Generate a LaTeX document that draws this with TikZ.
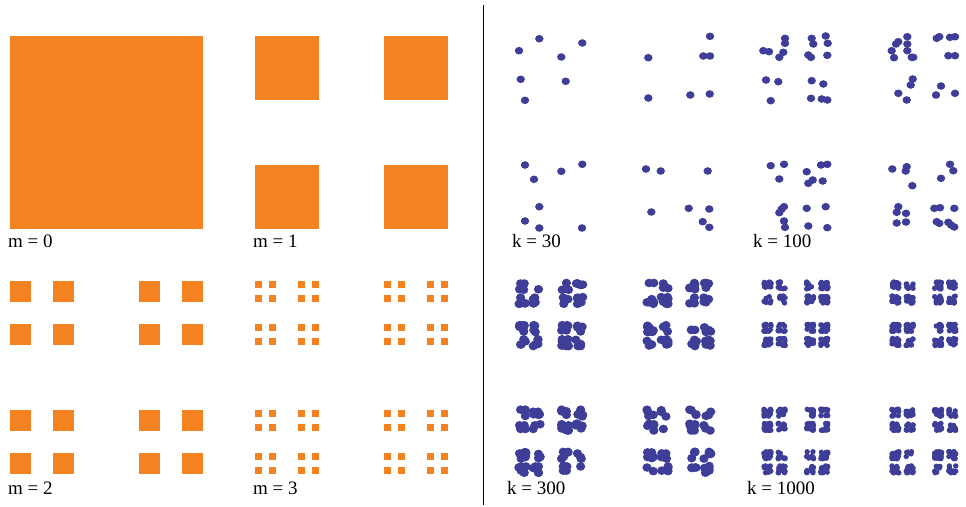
\documentclass[tikz,border=0pt]{standalone}
\usepackage{fontspec}
\setmainfont{Liberation Serif}
\definecolor{dustorange}{HTML}{F58220}
\definecolor{dustblue}{HTML}{3E3E98}

\begin{document}
\begin{tikzpicture}[x=1pt,y=-1pt,
  sq/.style={fill=dustorange},
  dust/.style={fill=dustblue},
  lab/.style={anchor=base west,inner sep=0pt,font=\fontsize{19}{22}\selectfont}]
  \useasboundingbox (0,0) rectangle (966,506);
  % Cantor squares, m = 0..3
  \fill[sq] (10,36) rectangle ++(193,193);
  \foreach \i in {0,2} \foreach \j in {0,2}
    \fill[sq] ({255+\i*193/3},{36+\j*193/3}) rectangle ++(193/3,193/3);
  \foreach \i in {0,2,6,8} \foreach \j in {0,2,6,8}
    \fill[sq] ({10+\i*193/9},{281+\j*193/9}) rectangle ++(193/9,193/9);
  \foreach \i in {0,2,6,8,18,20,24,26} \foreach \j in {0,2,6,8,18,20,24,26}
    \fill[sq] ({255+\i*193/27},{281+\j*193/27}) rectangle ++(193/27,193/27);
  \node[lab] (m0) at (8,247) {m = 0};
  \node[lab] (m1) at (253,247) {m = 1};
  \node[lab] (m2) at (8,494) {m = 2};
  \node[lab] (m3) at (253,494) {m = 3};
  % divider
  \draw[line width=1pt] (483,5) -- (483,505);
  % k = 30
  \foreach \a/\b in {519/50.7,539.3/38.7,582.3/43,561.3/57,520.7/79.3,565.7/81.3,525/100.3,
      648.3/57.7,710/36.3,703.3/56,710/56,648.3/98,690.3/95,709.7/94,
      525/165,534/179.3,561.3/171.3,582.3/164.3,539.3/206.7,525/221,539.3/228,582/228,
      646/169,660.7/171,707.7/171,651.3/212,688.7/208.3,709.3/209,702.7/221.7,709.3/227.3}
    \fill[dust] (\a,\b) ellipse (4.2 and 3.8);
  % k = 100
  \foreach \a/\b in {763.3/50.7,769/51.7,785/38.3,785/43.3,783.3/52.3,779.3/57.3,811.7/38.3,
      813.3/44,825.7/36,827.7/43.3,808.3/55,811/57.3,827.3/55.3,766/80,778.3/81.7,770.7/100.7,
      811.7/80.7,823.3/84,811/98.3,821.7/99,827.3/100,
      907.3/36.7,907.3/44,898.3/41.7,896/44,891.7/50.7,907.3/50.7,894/57.7,911.7/57.3,913.3/57.3,
      936.7/38.3,939.3/36.7,950/37.3,955/36.7,948.3/55.7,955/55.7,912.7/79,910.7/85,898.3/93.3,
      906.7/100,941/86,936/95,955/93.3,
      770.7/165.7,784/164.3,779.3/179,806.7/171.7,821/165,827.3/164.3,812.7/180,808.3/183.3,
      822.7/181,784/206.7,781.7/209,779.3/212.7,784/221,785/227.3,806.7/208.3,825.7/206.7,
      808.3/226,827.3/227.7,
      892.3/169,906.7/166.7,905.7/171,912.3/185.7,950/164.3,953.3/170.7,941/178.3,898.3/206.7,
      896.7/212.3,906/213.3,896.7/223,906/222,934.3/208.3,940/207.7,954.3/208.3,936.7/221.7,
      939.3/223.3,948.3/222.3,951/225,954.3/227}
    \fill[dust] (\a,\b) ellipse (4.2 and 3.8);
  % k = 300
  \pgfmathsetseed{300}
  \foreach \n in {1,...,300}{
    \pgfmathsetmacro\u{2*(random(0,1)/3+random(0,1)/9+random(0,1)/27+random(0,1)/81+random(0,1)/243+random(0,1)/729)}
    \pgfmathsetmacro\v{2*(random(0,1)/3+random(0,1)/9+random(0,1)/27+random(0,1)/81+random(0,1)/243+random(0,1)/729)}
    \fill[dust] ({519+192*\u},{283+190*\v}) ellipse (4.6 and 4.3);
  }
  % k = 1000
  \pgfmathsetseed{1000}
  \foreach \n in {1,...,1000}{
    \pgfmathsetmacro\u{2*(random(0,1)/3+random(0,1)/9+random(0,1)/27+random(0,1)/81+random(0,1)/243+random(0,1)/729)}
    \pgfmathsetmacro\v{2*(random(0,1)/3+random(0,1)/9+random(0,1)/27+random(0,1)/81+random(0,1)/243+random(0,1)/729)}
    \fill[dust] ({764+192*\u},{282+191*\v}) circle (2.7);
  }
  \node[lab] (k30) at (512,247) {k = 30};
  \node[lab] (k100) at (753,247) {k = 100};
  \node[lab] (k300) at (507,494) {k = 300};
  \node[lab] (k1000) at (747,494) {k = 1000};
\end{tikzpicture}
\end{document}
